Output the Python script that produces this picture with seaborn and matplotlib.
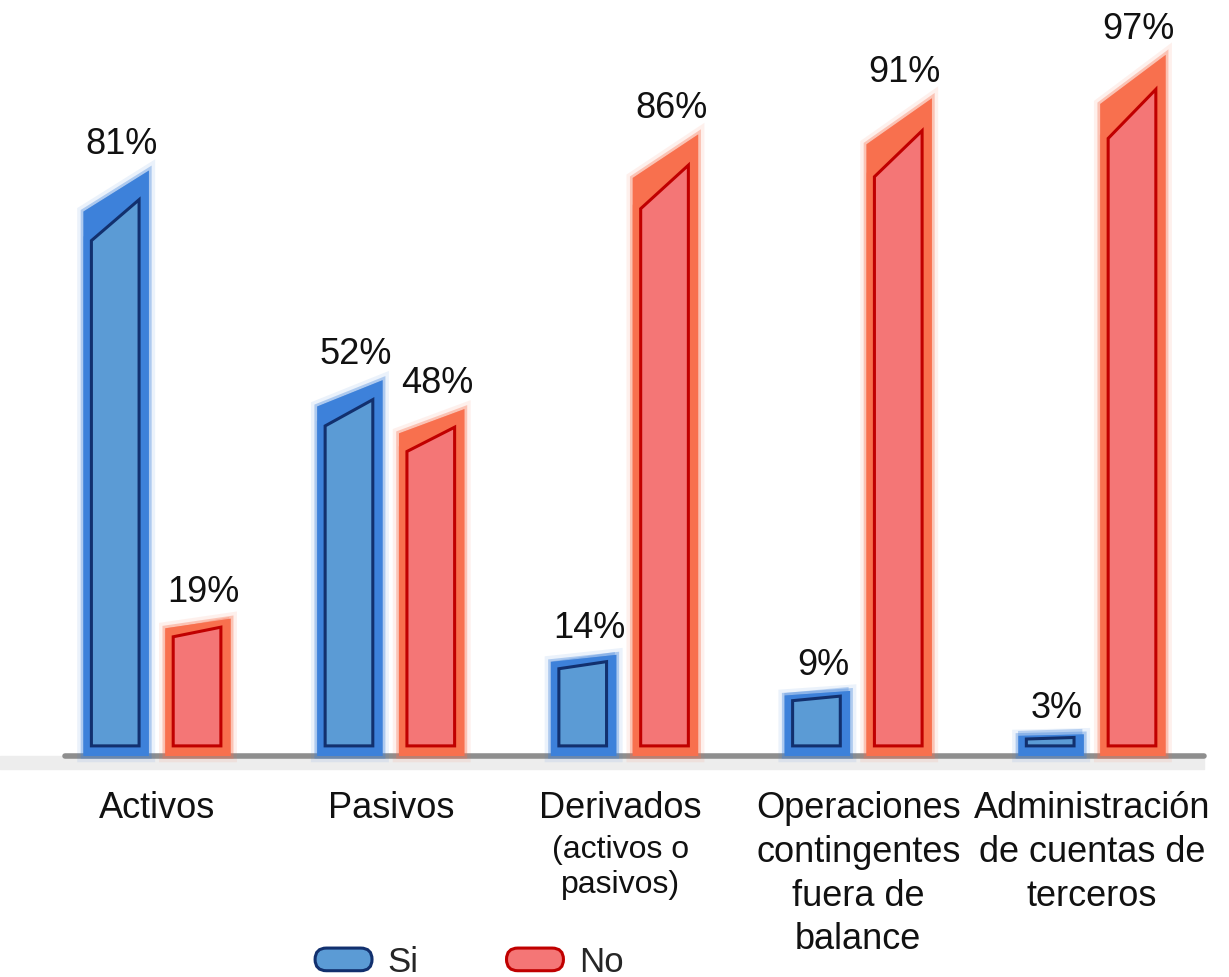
import numpy as np
import pandas as pd
import matplotlib
matplotlib.use("Agg")
import matplotlib.pyplot as plt
import seaborn as sns
from matplotlib.patches import Polygon, FancyBboxPatch, Patch
from matplotlib.legend_handler import HandlerBase
import matplotlib.patheffects as pe

categories = ["Activos", "Pasivos", "Derivados",
              "Operaciones\ncontingentes\nfuera de\nbalance",
              "Administración\nde cuentas de\nterceros"]
si_values = [81, 52, 14, 9, 3]
no_values = [19, 48, 86, 91, 97]
series = ["Si", "No"]

sns.set_theme(style="white")
plt.rcParams["font.family"] = ["Liberation Sans", "DejaVu Sans"]

df = pd.DataFrame({
    "cat": categories * 2,
    "val": si_values + no_values,
    "resp": ["Si"] * len(categories) + ["No"] * len(categories),
})

outer = {"Si": "#3d81da", "No": "#f8704e"}
inner_fill = {"Si": "#5b9bd5", "No": "#f47676"}
edge = {"Si": "#12306e", "No": "#c00000"}

fig = plt.figure(figsize=(12.29, 9.77), dpi=100)
ax = fig.add_axes([0, 0.15, 1, 0.85])
sns.barplot(data=df, x="cat", y="val", hue="resp", hue_order=series,
            palette=outer, saturation=1, width=0.7, gap=0.2, legend=False, ax=ax)
bar_patches = [p for p in ax.patches if p.get_height() > 0]

ax.set_xlim(-0.672, 4.586)
ax.set_ylim(-10.3, 104.6)

# background band + baseline
ax.axhspan(-1.8, 0, xmin=0.0, xmax=0.98, color="#ededed", zorder=0.5)
ax.axhline(0, xmin=0.053, xmax=0.98, color="#8e8e8e", lw=4, zorder=0.6)

for p in bar_patches:
    x0, w, h = p.get_x(), p.get_width(), p.get_height()
    cx = x0 + w / 2
    key = "Si" if cx < round(cx) else "No"
    p.set_visible(False)
    slant = 0.07 * h
    poly = Polygon([(x0, 0), (x0 + w, 0), (x0 + w, h), (x0, h - slant)],
                   closed=True, fc=outer[key], ec="none", zorder=2)
    poly.set_path_effects([
        pe.Stroke(linewidth=9, foreground=outer[key], alpha=0.10),
        pe.Stroke(linewidth=4, foreground=outer[key], alpha=0.35),
        pe.Normal()])
    ax.add_patch(poly)
    dx_l = 0.034
    dx_r = 0.042
    bot = 1.4
    top_in = 0.046 * h + 0.3
    ih = max(h - top_in, bot + 0.8)
    islant = 0.07 * h
    ipoly = Polygon([(x0 + dx_l, bot), (x0 + w - dx_r, bot), (x0 + w - dx_r, ih),
                     (x0 + dx_l, max(ih - islant, bot + 0.5))],
                    closed=True, fc=inner_fill[key], ec=edge[key], lw=2.2,
                    zorder=3)
    ipoly.set_path_effects([
        pe.Stroke(linewidth=12, foreground=outer[key], alpha=0.3),
        pe.Normal()])
    ax.add_patch(ipoly)
    ax.annotate(f"{int(round(h))}%", xy=(cx, h), xytext=(4, 6),
                textcoords="offset points", ha="center", va="bottom",
                fontsize=26, color="#111111", zorder=5)

ax.set_xticks([])
ax.set_yticks([])
for s in ax.spines.values():
    s.set_visible(False)
ax.set_xlabel("")
ax.set_ylabel("")

# category labels
for i, c in enumerate(categories):
    if c == "Derivados":
        ax.annotate(c, xy=(i, 0), xytext=(-3, -25), textcoords="offset points",
                    ha="center", va="top", fontsize=26, color="#111111")
        ax.annotate("(activos o\npasivos)", xy=(i, 0), xytext=(-3, -57),
                    textcoords="offset points", ha="center", va="top",
                    fontsize=23, color="#111111", linespacing=1.2)
    else:
        ax.annotate(c, xy=(i, 0), xytext=(0, -25), textcoords="offset points",
                    ha="center", va="top", fontsize=26, color="#111111",
                    linespacing=1.33)


class RoundHandler(HandlerBase):
    def create_artists(self, legend, orig_handle, xdescent, ydescent, width,
                       height, fontsize, trans):
        r = FancyBboxPatch((-xdescent + 2, -ydescent + 1), width - 4, height - 2,
                           boxstyle=f"round,pad=0,rounding_size={(height - 2) / 2}",
                           fc=orig_handle.get_facecolor(),
                           ec=orig_handle.get_edgecolor(), lw=2.2, transform=trans)
        return [r]


handles = [Patch(fc=inner_fill[s], ec=edge[s]) for s in series]
fig.legend(handles, series, loc="center",
           bbox_to_anchor=(468 / 1229, 1 - 962 / 977), ncol=2, frameon=False,
           handlelength=1.8, handleheight=0.75, columnspacing=2.45,
           handletextpad=0.37, fontsize=25,
           handler_map={Patch: RoundHandler()})

fig.savefig("out.png", dpi=100, facecolor="white")
